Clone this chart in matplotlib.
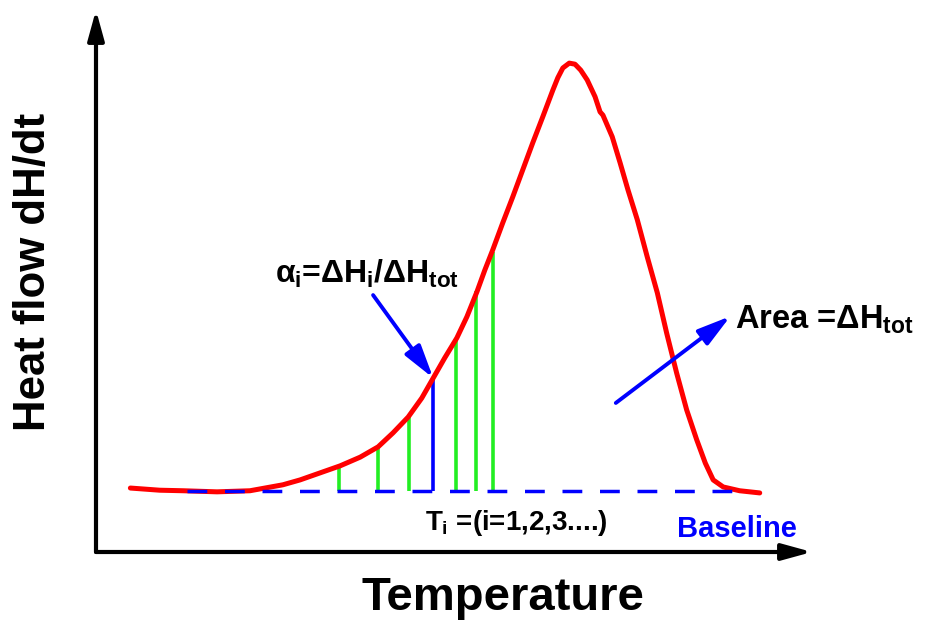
"""
Schematic DSC curve: heat flow vs temperature with partial areas.
"""
import matplotlib
matplotlib.use("Agg")
import matplotlib.pyplot as plt
from matplotlib.patches import ArrowStyle

plt.rcParams["font.family"] = ["Liberation Sans", "DejaVu Sans"]
plt.rcParams["font.weight"] = "bold"
plt.rcParams["mathtext.fontset"] = "custom"
plt.rcParams["mathtext.rm"] = "Liberation Sans:bold"
plt.rcParams["mathtext.it"] = "Liberation Sans:bold"
plt.rcParams["mathtext.bf"] = "Liberation Sans:bold"

# curve (arbitrary units, 0-100 on both axes)
temp = [4.8, 8.9, 12.2, 16.9, 21.5, 26.1, 28.5, 31.3, 34.1, 36.9, 39.4, 41.5,
        43.6, 45.5, 47.1, 48.7, 50.4, 51.8, 53.2, 54.3, 55.4, 56.8, 58.2, 59.6,
        61.0, 62.4, 63.8, 64.5, 65.2, 66.1, 66.9, 67.7, 68.6, 69.7, 70.4, 70.8,
        72.1, 73.2, 74.3, 75.6, 77.0, 78.4, 79.7, 81.1, 82.5, 83.9, 85.1, 86.2,
        87.6, 89.9, 92.7]
heat = [11.8, 11.4, 11.3, 11.1, 11.3, 12.4, 13.3, 14.6, 15.9, 17.5, 19.4, 22.0,
        24.9, 28.4, 32.1, 35.8, 39.5, 43.4, 48.0, 52.0, 55.7, 60.7, 65.5, 70.5,
        75.5, 80.3, 85.2, 87.5, 89.3, 90.2, 90.0, 88.9, 87.1, 84.0, 81.2, 80.6,
        76.6, 71.8, 66.8, 61.3, 54.4, 47.8, 40.4, 33.0, 26.2, 20.7, 16.4, 13.3,
        12.0, 11.3, 10.9]

baseline = 11.25
baseline_start, baseline_end = 12.7, 91.1

# integration slices T_i (the blue one is the marked alpha_i)
slice_t = [33.9, 39.4, 43.7, 50.3, 53.1, 55.4]
slice_top = [15.9, 19.4, 25.1, 39.3, 48.2, 55.4]
marked_t, marked_top = 47.1, 32.1

W, H = 925, 629


def fig_xy(x, y):
    return x / W, 1 - y / H


fig = plt.figure(figsize=(W / 100, H / 100), dpi=100)
ax = fig.add_axes([96 / W, (H - 552) / H, (812 - 96) / W, (552 - 10) / H])
ax.set_xlim(0, 100)
ax.set_ylim(0, 100)
ax.axis("off")

# axes drawn as arrows
axis_head = ArrowStyle("-|>", head_length=0.4, head_width=0.11)
for tip in [(1, 0), (0, 1)]:
    ax.annotate("", xy=tip, xytext=(0, 0), xycoords="axes fraction",
                arrowprops=dict(arrowstyle=axis_head, mutation_scale=45, lw=3,
                                color="black", shrinkA=0, shrinkB=0),
                annotation_clip=False)

ax.vlines(slice_t, baseline, slice_top, color="#22ee22", lw=2.6, zorder=2)
ax.vlines(marked_t, baseline, marked_top, color="blue", lw=2.6, zorder=2)
ax.plot(temp, heat, color="red", lw=3.6, solid_capstyle="round",
        solid_joinstyle="round", zorder=3)
ax.plot([baseline_start, baseline_end], [baseline, baseline], color="blue",
        lw=2.5, dashes=(5.7, 5.1), zorder=4)

head = ArrowStyle("-|>", head_length=1.0, head_width=0.28)
ax.annotate("", xy=(marked_t, marked_top), xytext=(38.7, 47.4),
            arrowprops=dict(arrowstyle=head, mutation_scale=20, lw=2.8,
                            color="blue", shrinkA=0, shrinkB=0), zorder=5)
ax.annotate("", xy=(88.6, 43.5), xytext=(72.6, 27.5),
            arrowprops=dict(arrowstyle=head, mutation_scale=20, lw=2.8,
                            color="blue", shrinkA=0, shrinkB=0), zorder=5)

fig.text(*fig_xy(275, 283), r"$\alpha_i$=$\Delta H_i$/$\Delta H_{tot}$",
         fontsize=23, ha="left", va="baseline")
fig.text(*fig_xy(735, 329), r"Area =$\Delta H_{tot}$",
         fontsize=23.5, ha="left", va="baseline")
fig.text(*fig_xy(425, 530), r"$T_i$ =(i=1,2,3....)",
         fontsize=20, ha="left", va="baseline")
fig.text(*fig_xy(677, 537), "Baseline", color="blue",
         fontsize=21, ha="left", va="baseline")
fig.text(*fig_xy(503, 610), "Temperature", fontsize=34,
         ha="center", va="baseline")
fig.text(*fig_xy(34, 272), "Heat flow dH/dt", fontsize=31.5, rotation=90,
         ha="center", va="center")

fig.savefig("out.png", dpi=100)
